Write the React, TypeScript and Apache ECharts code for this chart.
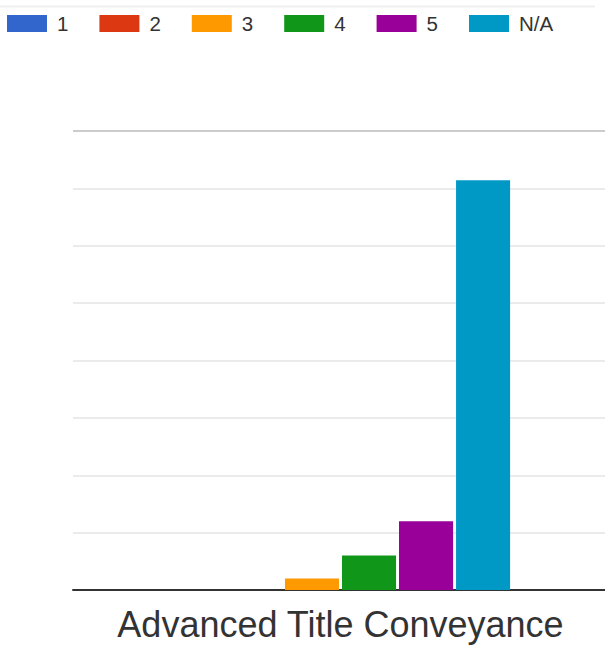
import React, { useEffect, useRef } from "react";
import * as echarts from "echarts";

const categories = ["Advanced Title Conveyance"];
const seriesNames = ["1", "2", "3", "4", "5", "N/A"];
const seriesValues = [0, 0, 1, 3, 6, 35.7];
const seriesColors = ["#3366cc", "#dc3912", "#ff9900", "#109618", "#990099", "#0099c6"];
const yTicks = [0, 5, 10, 15, 20, 25, 30, 35, 40];

export default function App() {
  const ref = useRef<HTMLDivElement>(null);
  useEffect(() => {
    document.body.style.margin = "0";
    if (!ref.current) return;
    const chart = echarts.init(ref.current, undefined, { renderer: "svg" });
    const gridColors = yTicks.map((_, i) => (i === yTicks.length - 1 ? "#cccccc" : "#ebebeb"));
    chart.setOption({
      animation: false,
      textStyle: { fontFamily: "Liberation Sans, Arial, sans-serif" },
      graphic: [
        {
          type: "line",
          shape: { x1: 0, y1: 6.5, x2: 595, y2: 6.5 },
          style: { stroke: "#efefef", lineWidth: 2 },
        },
      ],
      legend: {
        left: 7,
        top: 13,
        padding: 0,
        itemWidth: 40,
        itemHeight: 17,
        itemGap: 31,
        icon: "rect",
        data: seriesNames,
        textStyle: {
          fontSize: 20.5,
          color: "#333",
          padding: [0, 0, 0, 5],
          fontFamily: "Liberation Sans, Arial, sans-serif",
        },
      },
      grid: { left: 73, top: 131, width: 535, height: 459, outerBoundsMode: "none", containLabel: false },
      xAxis: {
        type: "category",
        data: categories,
        axisLine: { lineStyle: { color: "#333", width: 2 } },
        axisTick: { show: false },
        axisLabel: {
          fontSize: 36,
          color: "#333",
          margin: 16,
          fontFamily: "Liberation Sans, Arial, sans-serif",
        },
      },
      yAxis: {
        type: "value",
        min: yTicks[0],
        max: yTicks[yTicks.length - 1],
        interval: yTicks[1] - yTicks[0],
        axisLabel: { show: false },
        axisLine: { show: false },
        axisTick: { show: false },
        splitLine: { lineStyle: { color: gridColors, width: 2 } },
      },
      series: seriesNames.map((name, i) => ({
        name,
        type: "bar",
        data: [seriesValues[i]],
        itemStyle: { color: seriesColors[i] },
        barCategoryGap: "36.6%",
        barGap: "5.5%",
      })),
    });
    return () => chart.dispose();
  }, []);
  return <div ref={ref} style={{ width: 605, height: 648 }} />;
}
